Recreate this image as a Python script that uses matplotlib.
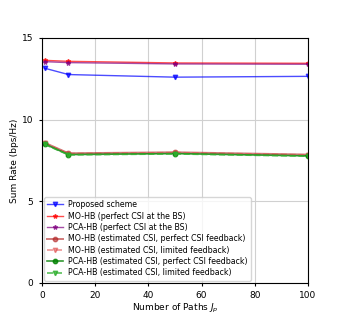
import matplotlib
matplotlib.use('Agg')
import matplotlib.pyplot as plt

# number of paths
paths = [1, 10, 50, 100]

proposed = [13.15, 12.76, 12.60, 12.65]
mo_perfect = [13.63, 13.57, 13.47, 13.45]
pca_perfect = [13.55, 13.49, 13.41, 13.39]
mo_est_perfect_fb = [8.59, 7.94, 8.00, 7.86]
mo_est_limited_fb = [8.57, 7.92, 7.98, 7.84]
pca_est_perfect_fb = [8.51, 7.86, 7.92, 7.78]
pca_est_limited_fb = [8.49, 7.84, 7.90, 7.76]

labels = [
    'Proposed scheme',
    'MO-HB (perfect CSI at the BS)',
    'PCA-HB (perfect CSI at the BS)',
    'MO-HB (estimated CSI, perfect CSI feedback)',
    'MO-HB (estimated CSI, limited feedback)',
    'PCA-HB (estimated CSI, perfect CSI feedback)',
    'PCA-HB (estimated CSI, limited feedback)',
]

fig = plt.figure(figsize=(3.43, 3.19), dpi=100)
ax = fig.add_axes([0.122, 0.113, 0.776, 0.768])

ax.plot(paths, proposed, color='blue', marker='v', ms=3.2, lw=1, alpha=0.7, label=labels[0])
ax.plot(paths, mo_perfect, color='red', marker='*', ms=3.2, lw=1, alpha=0.7, label=labels[1])
ax.plot(paths, pca_perfect, color='purple', marker='*', ms=3.2, lw=1, alpha=0.7, label=labels[2])
ax.plot(paths, mo_est_perfect_fb, color='firebrick', marker='o', ms=3.2, lw=1.4, alpha=0.6, label=labels[3])
ax.plot(paths, mo_est_limited_fb, color='#e05050', marker='v', ms=3.2, lw=1.2, ls='--', alpha=0.6, label=labels[4])
ax.plot(paths, pca_est_perfect_fb, color='green', marker='o', ms=3.2, lw=1.2, alpha=0.8, label=labels[5])
ax.plot(paths, pca_est_limited_fb, color='#30b030', marker='v', ms=3.2, lw=1.2, ls='--', alpha=0.8, label=labels[6])

ax.set_xlim(0, 100)
ax.set_ylim(0, 15)
ax.set_xticks([0, 20, 40, 60, 80, 100])
ax.set_yticks([0, 5, 10, 15])
ax.tick_params(labelsize=6.5, length=2.5)
ax.grid(True, color='#d0d0d0', lw=0.8)
ax.set_xlabel('Number of Paths $J_p$', fontsize=6.5, labelpad=1)
ax.set_ylabel('Sum Rate (bps/Hz)', fontsize=6.5, labelpad=2)
ax.legend(loc='lower left', fontsize=5.7, handlelength=2, labelspacing=0.3,
          borderaxespad=0.3, handletextpad=0.6)

fig.savefig('out.png', dpi=100)
